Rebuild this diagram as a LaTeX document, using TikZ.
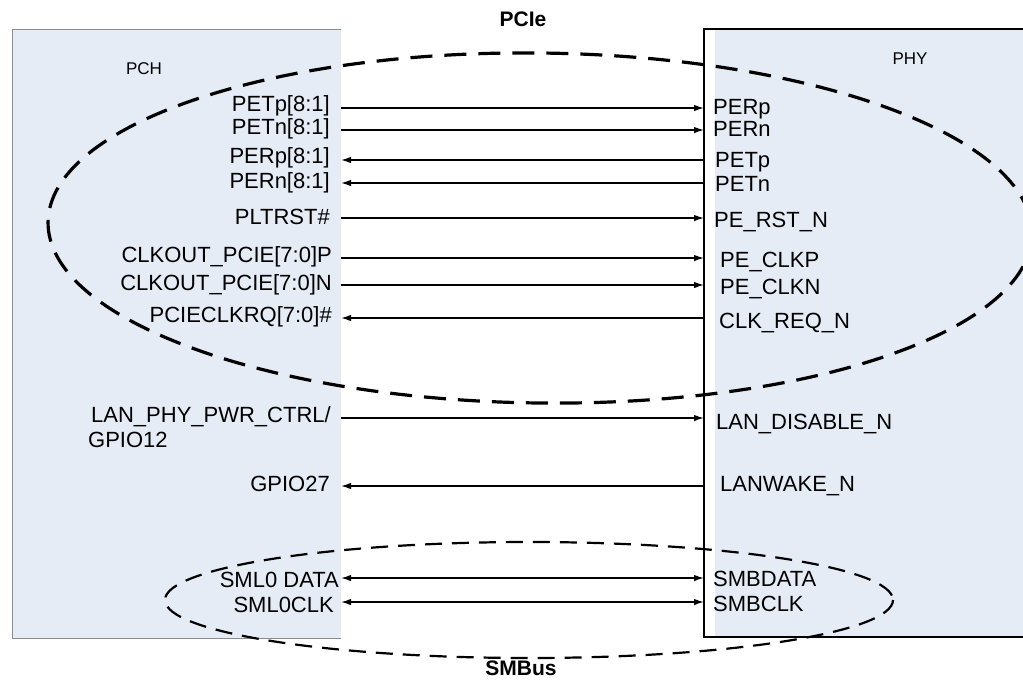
\documentclass[tikz,border=0pt]{standalone}
\usepackage{fontspec}
\setmainfont{Liberation Sans}
\usetikzlibrary{arrows.meta}
\definecolor{boxfill}{RGB}{229,236,246}
\definecolor{pchedge}{RGB}{140,140,140}
\begin{document}
\begin{tikzpicture}[x=1pt,y=-1pt,
  sig/.style={font=\fontsize{22}{24}\selectfont, inner sep=0pt},
  lsig/.style={sig, anchor=base east},
  rsig/.style={sig, anchor=base west},
  wire/.style={line width=1.4pt},
  tipto/.style={wire, -{Latex[length=10pt,width=6.5pt]}},
  tipboth/.style={wire, {Latex[length=10pt,width=6.5pt]}-{Latex[length=10pt,width=6.5pt]}},
  titletext/.style={font=\fontsize{21}{24}\selectfont\bfseries, inner sep=0pt},
  boxname/.style={font=\fontsize{17}{20}\selectfont, inner sep=0pt},
  bigdash/.style={line width=3.2pt, dash pattern=on 22pt off 12pt},
  smalldash/.style={line width=2.2pt, dash pattern=on 17pt off 10pt},
]
\useasboundingbox (0,0) rectangle (1023,681);

% boxes
\fill[boxfill] (12,29) rectangle (341,638);
\draw[pchedge, line width=1pt] (341,29) -- (12,29) -- (12,638) -- (341,638);
\draw[fill=white, line width=1.8pt] (704,29) rectangle (1035,637);
\fill[boxfill] (715,30) rectangle (1023,636);

\node[boxname] (pch) at (144,69) {PCH};
\node[boxname] (phy) at (910,59) {PHY};

% group ellipses
\draw[bigdash] (540,228) ellipse [x radius=492, y radius=175, rotate=-0.7];
\draw[smalldash] (529,600) ellipse [x radius=364, y radius=58];
\node[titletext] (pcie) at (523,19.5) {PCIe};
\node[titletext] (smbus) at (521,668) {SMBus};

% connector end points
\foreach \n/\yy in {1/108,2/130,3/160,4/183,5/218,6/258,7/285,8/318,9/418,10/486,11/578,12/602}{
  \coordinate (L\n) at (341,\yy);
  \coordinate (R\n) at (704,\yy);
}

% connectors
\draw[tipto] (L1) -- (R1);
\draw[tipto] (L2) -- (R2);
\draw[tipto] (R3) -- (L3);
\draw[tipto] (R4) -- (L4);
\draw[tipto] (L5) -- (R5);
\draw[tipto] (L6) -- (R6);
\draw[tipto] (L7) -- (R7);
\draw[tipto] (R8) -- (L8);
\draw[tipto] (L9) -- (R9);
\draw[tipto] (R10) -- (L10);
\draw[tipboth] (L11) -- (R11);
\draw[tipboth] (L12) -- (R12);

% PCH side labels
\node[lsig] (petp) at (330,111.5) {PETp[8:1]};
\node[lsig] (petn) at (330,134.5) {PETn[8:1]};
\node[lsig] (perp) at (330,163.5) {PERp[8:1]};
\node[lsig] (pern) at (330,188) {PERn[8:1]};
\node[lsig] (pltrst) at (330,224.5) {PLTRST\#};
\node[lsig] (clkp) at (332,262.5) {CLKOUT\_PCIE[7:0]P};
\node[lsig] (clkn) at (332,290.5) {CLKOUT\_PCIE[7:0]N};
\node[lsig] (clkrq) at (332,322.5) {PCIECLKRQ[7:0]\#};
\node[lsig] (lanpwr) at (331,422.5) {LAN\_PHY\_PWR\_CTRL/};
\node[sig, anchor=base west] (gpio12) at (88,447.5) {GPIO12};
\node[lsig] (gpio27) at (330,491.5) {GPIO27};
\node[lsig] (smldata) at (339,587.5) {SML0 DATA};
\node[lsig] (smlclk) at (334,612) {SML0CLK};

% PHY side labels
\node[rsig] (perpr) at (713,114.5) {PERp};
\node[rsig] (pernr) at (713,136) {PERn};
\node[rsig] (petpr) at (715,167.5) {PETp};
\node[rsig] (petnr) at (715,191) {PETn};
\node[rsig] (perst) at (714,227.5) {PE\_RST\_N};
\node[rsig] (peclkp) at (720,267.5) {PE\_CLKP};
\node[rsig] (peclkn) at (720,294.5) {PE\_CLKN};
\node[rsig] (clkreq) at (719,328.5) {CLK\_REQ\_N};
\node[rsig] (landis) at (716,429.5) {LAN\_DISABLE\_N};
\node[rsig] (lanwake) at (720,491.5) {LANWAKE\_N};
\node[rsig] (smbdata) at (713,586.5) {SMBDATA};
\node[rsig] (smbclk) at (713,611.5) {SMBCLK};
\end{tikzpicture}
\end{document}
